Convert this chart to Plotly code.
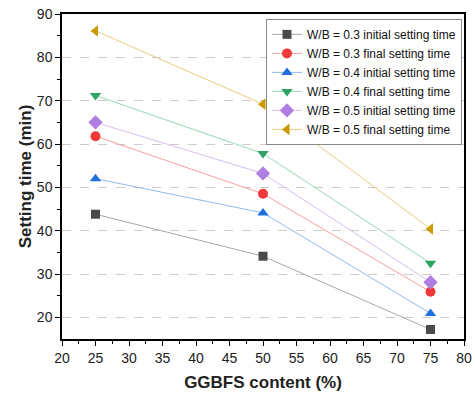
import plotly.graph_objects as go

ggbfs = [25, 50, 75]

wb03_initial = [43.8, 34.1, 17.2]
wb03_final = [61.8, 48.5, 25.9]
wb04_initial = [52.0, 44.1, 20.9]
wb04_final = [71.2, 57.8, 32.5]
wb05_initial = [65.0, 53.2, 28.1]
wb05_final = [86.1, 69.2, 40.4]

series_names = [
    "W/B = 0.3 initial setting time",
    "W/B = 0.3 final setting time",
    "W/B = 0.4 initial setting time",
    "W/B = 0.4 final setting time",
    "W/B = 0.5 initial setting time",
    "W/B = 0.5 final setting time",
]
series_values = [wb03_initial, wb03_final, wb04_initial, wb04_final, wb05_initial, wb05_final]

marker_colors = ["#4a4a4a", "#f03a3a", "#1f6fe0", "#2ea464", "#b07ee0", "#cc9900"]
line_colors = ["#a8a8a8", "#f7a0a0", "#92b8f0", "#9ad6b2", "#d8bdf2", "#e8cc80"]
symbols = ["square", "circle", "triangle-up", "triangle-down", "diamond", "triangle-left"]
marker_sizes = [9, 10, 10, 10, 11, 10]

fig = go.Figure()
for name, vals, mc, lc, sym, ms in zip(series_names, series_values, marker_colors, line_colors, symbols, marker_sizes):
    fig.add_trace(go.Scatter(
        x=ggbfs, y=vals, name=name, mode="lines+markers",
        line=dict(color=lc, width=1),
        marker=dict(symbol=sym, size=ms, color=mc, line=dict(width=0)),
    ))

fig.update_layout(
    width=475, height=396,
    margin=dict(l=62, r=11, t=14, b=57),
    paper_bgcolor="white", plot_bgcolor="white",
    font=dict(family="Arial, Liberation Sans", size=14, color="#222"),
    legend=dict(
        x=0.995, y=0.985, xanchor="right", yanchor="top",
        bgcolor="white", bordercolor="#888", borderwidth=1,
        font=dict(size=12, color="#111"), tracegroupgap=0,
        itemwidth=30,
    ),
    xaxis=dict(
        range=[20, 80], tickmode="linear", tick0=20, dtick=5,
        ticks="outside", ticklen=5, tickwidth=1, tickcolor="black",
        minor=dict(ticks="outside", ticklen=3, dtick=2.5, tickcolor="black"),
        showline=True, linecolor="black", linewidth=1.5, mirror=True,
        showgrid=False, zeroline=False, automargin=False,
        title=dict(text="<b>GGBFS content (%)</b>", font=dict(size=17), standoff=12),
    ),
    yaxis=dict(
        range=[15, 90], tickmode="array", tickvals=[20, 30, 40, 50, 60, 70, 80, 90],
        ticks="outside", ticklen=5, tickwidth=1, tickcolor="black",
        minor=dict(ticks="outside", ticklen=3, tickvals=[25, 35, 45, 55, 65, 75, 85], tickcolor="black"),
        showline=True, linecolor="black", linewidth=1.5, mirror=True,
        showgrid=True, gridcolor="#cccccc", griddash="dash", gridwidth=1,
        zeroline=False, automargin=False,
        title=dict(text="<b>Setting time (min)</b>", font=dict(size=17), standoff=1),
    ),
)

fig.write_html("out.html")
